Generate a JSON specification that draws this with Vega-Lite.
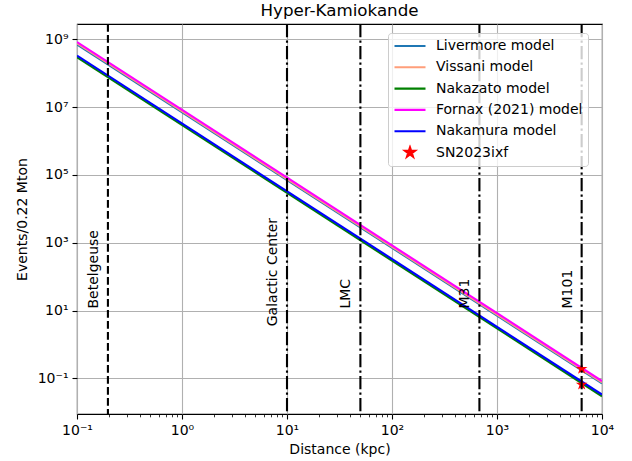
{
  "$schema": "https://vega.github.io/schema/vega-lite/v6.json",
  "width": 525,
  "height": 390,
  "autosize": {"type": "none"},
  "padding": {"left": 77, "top": 24, "right": 30, "bottom": 47},
  "background": "white",
  "config": {
    "font": "DejaVu Sans",
    "view": {"stroke": "black", "strokeWidth": 1.1},
    "axis": {
      "domain": false,
      "labelFont": "DejaVu Sans",
      "labelFontSize": 14,
      "labelColor": "black",
      "titleFont": "DejaVu Sans",
      "titleFontSize": 14,
      "titleFontWeight": "normal",
      "titleColor": "black",
      "tickColor": "black",
      "gridColor": "#b0b0b0",
      "gridWidth": 1.1,
      "labelOverlap": false,
      "labelFlush": false
    }
  },
  "title": {
    "text": "Hyper-Kamiokande",
    "font": "DejaVu Sans",
    "fontSize": 16.7,
    "fontWeight": "normal",
    "color": "black",
    "frame": "group",
    "baseline": "bottom",
    "offset": -14
  },
  "datasets": {
    "models": [
      {"model": "Livermore model", "d": 0.1, "n": 708000000},
      {"model": "Livermore model", "d": 10000, "n": 0.0708},
      {"model": "Vissani model", "d": 0.1, "n": 759000000},
      {"model": "Vissani model", "d": 10000, "n": 0.0759},
      {"model": "Nakazato model", "d": 0.1, "n": 295000000},
      {"model": "Nakazato model", "d": 10000, "n": 0.0295},
      {"model": "Fornax (2021) model", "d": 0.1, "n": 832000000},
      {"model": "Fornax (2021) model", "d": 10000, "n": 0.0832},
      {"model": "Nakamura model", "d": 0.1, "n": 331000000},
      {"model": "Nakamura model", "d": 10000, "n": 0.0331}
    ],
    "sites": [
      {"name": "Betelgeuse", "d": 0.197, "label_n": 10},
      {"name": "Galactic Center", "d": 10, "label_n": 3},
      {"name": "LMC", "d": 50, "label_n": 10},
      {"name": "M31", "d": 680, "label_n": 10},
      {"name": "M101", "d": 6400, "label_n": 10}
    ],
    "sn": [
      {"model": "SN2023ixf", "d": 6400, "n": 0.19},
      {"model": "SN2023ixf", "d": 6400, "n": 0.065}
    ]
  },
  "layer": [
    {
      "data": {"name": "models"},
      "mark": {"type": "line", "strokeWidth": 2.1, "clip": true},
      "encoding": {
        "x": {
          "field": "d", "type": "quantitative",
          "scale": {"type": "log", "domain": [0.1, 10000], "nice": false},
          "axis": {
            "title": "Distance (kpc)",
            "titlePadding": 5,
            "labelPadding": 4,
            "values": [0.1,0.2,0.3,0.4,0.5,0.6,0.7,0.8,0.9,1,2,3,4,5,6,7,8,9,10,20,30,40,50,60,70,80,90,100,200,300,400,500,600,700,800,900,1000,2000,3000,4000,5000,6000,7000,8000,9000,10000],
            "labelExpr": "datum.value == 0.1 ? '10⁻¹' : datum.value == 1 ? '10⁰' : datum.value == 10 ? '10¹' : datum.value == 100 ? '10²' : datum.value == 1000 ? '10³' : datum.value == 10000 ? '10⁴' : ''",
            "gridOpacity": {"condition": {"test": "indexof([0.1,1,10,100,1000,10000], datum.value) >= 0", "value": 1}, "value": 0},
            "tickSize": {"condition": {"test": "indexof([0.1,1,10,100,1000,10000], datum.value) >= 0", "value": 5}, "value": 2.8},
            "tickWidth": {"condition": {"test": "indexof([0.1,1,10,100,1000,10000], datum.value) >= 0", "value": 1.1}, "value": 0.8}
          }
        },
        "y": {
          "field": "n", "type": "quantitative",
          "scale": {"type": "log", "domain": [0.00885, 2830000000], "nice": false},
          "axis": {
            "title": "Events/0.22 Mton",
            "titlePadding": 8,
            "labelPadding": 4,
            "tickSize": 5,
            "tickWidth": 1.1,
            "values": [0.1, 10, 1000, 100000, 10000000, 1000000000],
            "labelExpr": "datum.value == 0.1 ? '10⁻¹' : datum.value == 10 ? '10¹' : datum.value == 1000 ? '10³' : datum.value == 100000 ? '10⁵' : datum.value == 10000000 ? '10⁷' : '10⁹'"
          }
        },
        "color": {
          "field": "model", "type": "nominal",
          "scale": {
            "domain": ["Livermore model", "Vissani model", "Nakazato model", "Fornax (2021) model", "Nakamura model", "SN2023ixf"],
            "range": ["#1f77b4", "#ff9e7a", "#008000", "#ff00ff", "#0000ff", "#ff0000"]
          },
          "sort": null,
          "legend": {
            "title": null,
            "orient": "none",
            "legendX": 311,
            "legendY": 9,
            "padding": 5,
            "fillColor": "rgba(255,255,255,0.8)",
            "strokeColor": "#cccccc",
            "cornerRadius": 3,
            "labelFont": "DejaVu Sans",
            "labelFontSize": 14,
            "labelColor": "black",
            "labelOffset": 9,
            "symbolType": "stroke",
            "symbolSize": 961,
            "symbolStrokeWidth": 2.1,
            "clipHeight": 16,
            "rowPadding": 5.3,
            "encode": {
              "symbols": {
                "update": {
                  "shape": {"signal": "datum.value === 'SN2023ixf' ? 'M0,-0.33L0.0741,-0.102L0.3139,-0.102L0.1199,0.039L0.194,0.267L0,0.126L-0.194,0.267L-0.1199,0.039L-0.3139,-0.102L-0.0741,-0.102Z' : 'stroke'"},
                  "fill": {"signal": "datum.value === 'SN2023ixf' ? '#ff0000' : 'transparent'"},
                  "stroke": {"scale": "color", "field": "value"},
                  "opacity": {"value": 1}
                }
              }
            }
          }
        }
      }
    },
    {
      "data": {"name": "sn"},
      "mark": {"type": "point", "filled": true, "size": 150, "opacity": 1, "strokeWidth": 1,
               "shape": "M0,-1L0.2245,-0.309L0.9511,-0.309L0.3633,0.118L0.5878,0.809L0,0.382L-0.5878,0.809L-0.3633,0.118L-0.9511,-0.309L-0.2245,-0.309Z"},
      "encoding": {
        "x": {"field": "d", "type": "quantitative"},
        "y": {"field": "n", "type": "quantitative"},
        "color": {"field": "model", "type": "nominal"}
      }
    },
    {
      "data": {"name": "sites"},
      "transform": [{"filter": "datum.name == 'Betelgeuse'"}],
      "mark": {"type": "rule", "color": "black", "strokeWidth": 2.1, "strokeDash": [7.7, 3.3]},
      "encoding": {"x": {"field": "d", "type": "quantitative"}}
    },
    {
      "data": {"name": "sites"},
      "transform": [{"filter": "datum.name != 'Betelgeuse'"}],
      "mark": {"type": "rule", "color": "black", "strokeWidth": 2.1, "strokeDash": [13.3, 3.3, 2.1, 3.3]},
      "encoding": {"x": {"field": "d", "type": "quantitative"}}
    },
    {
      "data": {"name": "sites"},
      "mark": {"type": "text", "angle": 270, "align": "left", "baseline": "alphabetic", "dx": 2, "dy": -10, "font": "DejaVu Sans", "fontSize": 14, "color": "black"},
      "encoding": {
        "x": {"field": "d", "type": "quantitative"},
        "y": {"field": "label_n", "type": "quantitative"},
        "text": {"field": "name"}
      }
    }
  ]
}
